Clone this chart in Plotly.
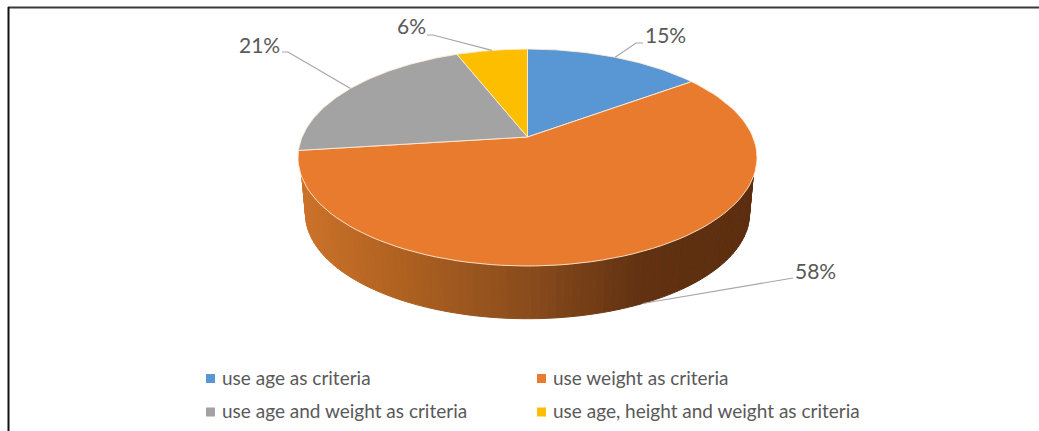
import numpy as np
import plotly.graph_objects as go

categories = ["use age as criteria", "use weight as criteria",
              "use age and weight as criteria", "use age, height and weight as criteria"]
values = [15, 58, 21, 6]
colors = ["#5897D4", "#E97B2E", "#A3A3A3", "#FDBE00"]

W, H = 1039, 431
CX, CY = 527.5, 137.0
A, B, K = 225.4, 104.6, 0.189
BOTTOM_SCALE, BOTTOM_DROP = 0.967, 57.0
FONT = "Lato"
TEXT = "#595959"
LEADER = "#A6A6A6"


def rim(deg, scale=1.0, drop=0.0):
    t = np.radians(deg)
    X, Y = np.sin(t), np.cos(t)
    w = 1 + K * Y
    return CX + scale * A * X / w, CY + drop - scale * B * Y / w


fig = go.Figure()

cum = np.cumsum([0] + values) * 3.6
orange_start, orange_end = cum[1], cum[2]

# Side wall of the large slice: drawn back to front as narrow facets
STOPS = [(303, (204, 114, 42)), (400, (176, 98, 33)), (527, (138, 76, 28)), (640, (98, 50, 18)), (757, (92, 46, 15))]
xs_stop = [s[0] for s in STOPS]
edges = np.linspace(orange_start, orange_end, 121)
for d0, d1 in zip(edges[:-1], edges[1:]):
    x0, y0 = rim(d0, 0.99)
    x1, y1 = rim(d1, 0.99)
    x2, y2 = rim(d1, BOTTOM_SCALE, BOTTOM_DROP)
    x3, y3 = rim(d0, BOTTOM_SCALE, BOTTOM_DROP)
    mx = (x0 + x1 + x2 + x3) / 4
    rgb = [np.interp(mx, xs_stop, [s[1][i] for s in STOPS]) for i in range(3)]
    col = "rgb(%d,%d,%d)" % tuple(rgb)
    fig.add_trace(go.Scatter(x=[x0, x1, x2, x3, x0], y=[y0, y1, y2, y3, y0], mode="lines",
                             fill="toself", fillcolor=col, line=dict(color=col, width=1),
                             hoverinfo="skip", showlegend=False))

# Top face
for i, (cat, col) in enumerate(zip(categories, colors)):
    ang = np.linspace(cum[i], cum[i + 1], 90)
    px, py = rim(ang)
    fig.add_trace(go.Scatter(x=np.r_[CX, px, CX], y=np.r_[CY, py, CY], mode="lines", fill="toself",
                             fillcolor=col, line=dict(color="rgba(255,235,215,0.9)", width=1),
                             name=cat, showlegend=False, hoverinfo="name"))

# Leader lines start from the slice's rim and end at an elbow beside each label
mid = (cum[:-1] + cum[1:]) / 2
ends = [[(636, 43), (643, 43)], [(775, 281), (793, 278)], [(288, 52), (282, 52)], [(433, 35), (427, 35)]]
label_pos = [(665, 34.5), (815, 270.5), (259, 44.5), (411, 25.5)]
for i, v in enumerate(values):
    if i == 1:
        sx, sy = rim(mid[i] - 4.4, BOTTOM_SCALE, BOTTOM_DROP)
    else:
        sx, sy = rim(mid[i])
    lx = [sx] + [p[0] for p in ends[i]]
    ly = [sy] + [p[1] for p in ends[i]]
    fig.add_trace(go.Scatter(x=lx, y=ly, mode="lines", line=dict(color=LEADER, width=1.2),
                             hoverinfo="skip", showlegend=False))
    fig.add_annotation(x=label_pos[i][0], y=label_pos[i][1], text=f"{v}%", showarrow=False,
                       font=dict(family=FONT, size=21, color=TEXT))

# Legend, two columns by two rows
leg_x = [210.5, 541.5, 210.5, 541.5]
leg_y = [378.5, 378.5, 412, 412]
for i, (cat, col) in enumerate(zip(categories, colors)):
    fig.add_trace(go.Scatter(x=[leg_x[i]], y=[leg_y[i]], mode="markers",
                             marker=dict(symbol="square", size=9, color=col),
                             name=cat, cliponaxis=False, hoverinfo="skip", showlegend=False))
    fig.add_annotation(x=leg_x[i] + 9.5, y=leg_y[i] - 1.5, text=cat, showarrow=False, xanchor="left",
                       font=dict(family=FONT, size=19, color=TEXT))

fig.update_layout(
    width=W, height=H, margin=dict(l=0, r=0, t=0, b=0), autosize=False,
    paper_bgcolor="white", plot_bgcolor="white", showlegend=False,
    xaxis=dict(range=[0, W], visible=False, fixedrange=True),
    yaxis=dict(range=[H, 0], visible=False, fixedrange=True),
    shapes=[
        dict(type="line", x0=8, x1=W, y0=7.5, y1=7.5, line=dict(color="#3A3A3A", width=2)),
        dict(type="line", x0=8.5, x1=8.5, y0=7, y1=H, line=dict(color="#111111", width=2)),
    ],
)
fig.write_html("out.html", config=dict(displayModeBar=False),
               post_script="document.body.style.margin='0';document.body.style.overflow='hidden';")
